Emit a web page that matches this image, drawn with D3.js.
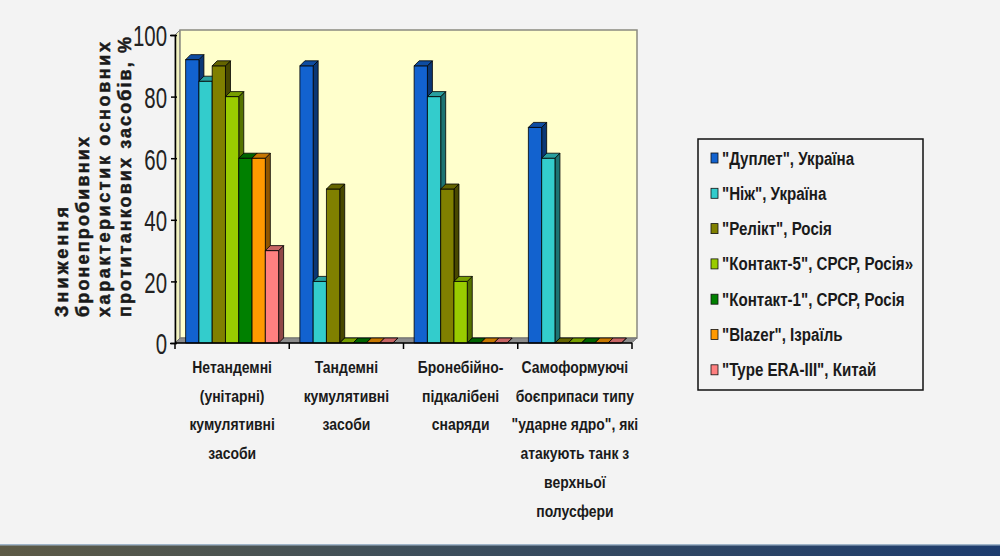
<!DOCTYPE html>
<html>
<head>
<meta charset="utf-8">
<script src="https://cdn.jsdelivr.net/npm/d3@7"></script>
<style>
  body { margin: 0; background: #f3f3f3; }
  svg { display: block; }
  .narrow { font-family: "Liberation Sans Narrow", "Arial Narrow", "Liberation Sans", sans-serif; }
</style>
</head>
<body>
<svg id="chart" width="1000" height="556"></svg>
<script>
// categories (each label split into its printed lines)
const categories = [
  ["Нетандемні", "(унітарні)", "кумулятивні", "засоби"],
  ["Тандемні", "кумулятивні", "засоби"],
  ["Бронебійно-", "підкалібені", "снаряди"],
  ["Самоформуючі", "боєприпаси типу", "\"ударне ядро\", які", "атакують танк з", "верхньої", "полусфери"]
];
const seriesNames = [
  "\"Дуплет\", Україна",
  "\"Ніж\", Україна",
  "\"Релікт\", Росія",
  "\"Контакт-5\", СРСР, Росія»",
  "\"Контакт-1\", СРСР, Росія",
  "\"Blazer\", Ізраїль",
  "\"Type ERA-III\", Китай"
];
// one row per series, one value per category
const dupletValues  = [92, 90, 90, 70];
const nizhValues    = [85, 20, 80, 60];
const reliktValues  = [90, 50, 50, 0];
const kontakt5Values = [80, 0, 20, 0];
const kontakt1Values = [60, 0, 0, 0];
const blazerValues  = [60, 0, 0, 0];
const eraValues     = [30, 0, 0, 0];
const seriesValues = [dupletValues, nizhValues, reliktValues, kontakt5Values, kontakt1Values, blazerValues, eraValues];
const yTicks = [0, 20, 40, 60, 80, 100];
const yTitleLines = ["Зниження", "бронепробивних", "характеристик основних", "протитанкових засобів, %"];

const palette = ["#1262cf", "#33cccc", "#808000", "#99cc00", "#008000", "#ff9900", "#ff8080"];

const svg = d3.select("#chart");
const padding = { top: 35, bottom: 213, left: 175, right: 368 };
const depth = 5;
const width = 1000, height = 556;
const x0 = padding.left, x1 = width - padding.right;
const yBottom = height - padding.bottom;

// squeeze text horizontally (the original uses a narrow face)
function condense(sel, factor) {
  sel.each(function () {
    const w = this.getComputedTextLength();
    d3.select(this).attr("textLength", w * factor).attr("lengthAdjust", "spacingAndGlyphs");
  });
}

// bottom photo strip
const grad = svg.append("defs").append("linearGradient").attr("id", "strip");
grad.append("stop").attr("offset", "0%").attr("stop-color", "#5d5a45");
grad.append("stop").attr("offset", "40%").attr("stop-color", "#3f4f5a");
grad.append("stop").attr("offset", "100%").attr("stop-color", "#1d3c6e");
svg.append("rect").attr("x", 0).attr("y", 545).attr("width", width).attr("height", 11).attr("fill", "url(#strip)");
svg.append("rect").attr("x", 0).attr("y", 544).attr("width", width).attr("height", 1.5).attr("fill", "#9fb4c8");

const yScale = d3.scaleLinear().domain([0, 100]).range([yBottom, padding.top]);
const xCat = d3.scaleBand().domain(d3.range(categories.length)).range([x0, x1]).paddingInner(0).paddingOuter(0);
const xSer = d3.scaleBand().domain(d3.range(seriesNames.length)).range([0, xCat.bandwidth()]).paddingInner(0).paddingOuter(0.8);

// walls
const wallTop = yScale(100);
svg.append("path")
  .attr("d", `M${x0},${wallTop} L${x0 + depth},${wallTop - depth} L${x0 + depth},${yBottom - depth} L${x0},${yBottom} Z`)
  .attr("fill", "#f2f2c0").attr("stroke", "#808080");
svg.append("rect")
  .attr("x", x0 + depth).attr("y", wallTop - depth)
  .attr("width", x1 - x0).attr("height", yBottom - wallTop)
  .attr("fill", "#ffffcc").attr("stroke", "#8a8a80").attr("stroke-width", 1.5);
svg.append("path")
  .attr("d", `M${x0},${yBottom} L${x0 + depth},${yBottom - depth} L${x1 + depth},${yBottom - depth} L${x1},${yBottom} Z`)
  .attr("fill", "#8c8c8c").attr("stroke", "#606060").attr("stroke-width", 0.6);

// bars
const bars = svg.append("g");
categories.forEach((cat, ci) => {
  seriesValues.forEach((vals, si) => {
    const c = d3.color(palette[si]);
    const bx = xCat(ci) + xSer(si);
    const bw = xSer.bandwidth();
    const by = yScale(vals[ci]);
    const g = bars.append("g").attr("stroke", "#000").attr("stroke-width", 0.8).attr("stroke-linejoin", "round");
    g.append("path")
      .attr("d", `M${bx + bw},${by} L${bx + bw + depth},${by - depth} L${bx + bw + depth},${yBottom - depth} L${bx + bw},${yBottom} Z`)
      .attr("fill", c.darker(1.6));
    g.append("rect").attr("x", bx).attr("y", by).attr("width", bw).attr("height", yBottom - by)
      .attr("fill", c);
    g.append("path")
      .attr("d", `M${bx},${by} L${bx + depth},${by - depth} L${bx + bw + depth},${by - depth} L${bx + bw},${by} Z`)
      .attr("fill", c.darker(0.7));
  });
});

// y axis
const yAxis = svg.append("g").attr("transform", `translate(${x0},0)`)
  .call(d3.axisLeft(yScale).tickValues(yTicks).tickSize(5).tickPadding(3));
yAxis.select(".domain").attr("stroke", "#000").attr("stroke-width", 1.5);
yAxis.selectAll(".tick line").attr("stroke", "#000").attr("stroke-width", 1.5).attr("x2", -4).attr("x1", 2);
yAxis.selectAll(".tick text")
  .attr("class", "narrow")
  .attr("font-size", 30).attr("fill", "#222")
  .attr("dy", "0.36em")
  .call(condense, 0.68);

// x axis line and ticks at category boundaries
const xAxis = svg.append("g");
xAxis.append("line").attr("x1", x0).attr("x2", x1).attr("y1", yBottom).attr("y2", yBottom)
  .attr("stroke", "#000").attr("stroke-width", 1.5);
xAxis.selectAll(".xt").data(d3.range(categories.length + 1)).join("line")
  .attr("x1", d => x0 + d * xCat.step()).attr("x2", d => x0 + d * xCat.step())
  .attr("y1", yBottom).attr("y2", yBottom + 6)
  .attr("stroke", "#000").attr("stroke-width", 1.5);

// category labels
categories.forEach((lines, ci) => {
  svg.append("g").selectAll("text").data(lines).join("text")
    .attr("class", "narrow")
    .attr("text-anchor", "middle").attr("font-size", 17).attr("font-weight", "bold").attr("fill", "#1a1a1a")
    .attr("x", xCat(ci) + xCat.bandwidth() / 2)
    .attr("y", (d, li) => 373 + li * 28.7)
    .text(d => d)
    .call(condense, 0.82);
});

// y axis title
const titleX = [68, 89, 110, 131];
const titleLen = [110, 180, 275, 280];
yTitleLines.forEach((ln, i) => {
  svg.append("text").attr("class", "narrow")
    .attr("transform", `translate(${titleX[i]},317) rotate(-90)`)
    .attr("font-size", 18).attr("font-weight", "bold").attr("fill", "#1a1a1a")
    .attr("stroke", "#1a1a1a").attr("stroke-width", 0.5)
    .attr("textLength", titleLen[i]).attr("lengthAdjust", "spacing")
    .text(ln);
});

// legend
const legend = svg.append("g");
legend.append("rect").attr("x", 698).attr("y", 139).attr("width", 225).attr("height", 251)
  .attr("fill", "#f3f3f3").attr("stroke", "#111").attr("stroke-width", 1.5);
const items = legend.selectAll(".item").data(seriesNames).join("g")
  .attr("transform", (d, i) => `translate(711,${158 + i * 35.3})`);
items.append("rect").attr("x", 0).attr("y", -5).attr("width", 7).attr("height", 10)
  .attr("fill", (d, i) => palette[i]).attr("stroke", "#111").attr("stroke-width", 0.8);
items.append("text").attr("class", "narrow").attr("x", 11).attr("y", 6.5)
  .attr("font-size", 18).attr("font-weight", "bold").attr("fill", "#1a1a1a")
  .text(d => d)
  .call(condense, 0.84);
</script>
</body>
</html>
